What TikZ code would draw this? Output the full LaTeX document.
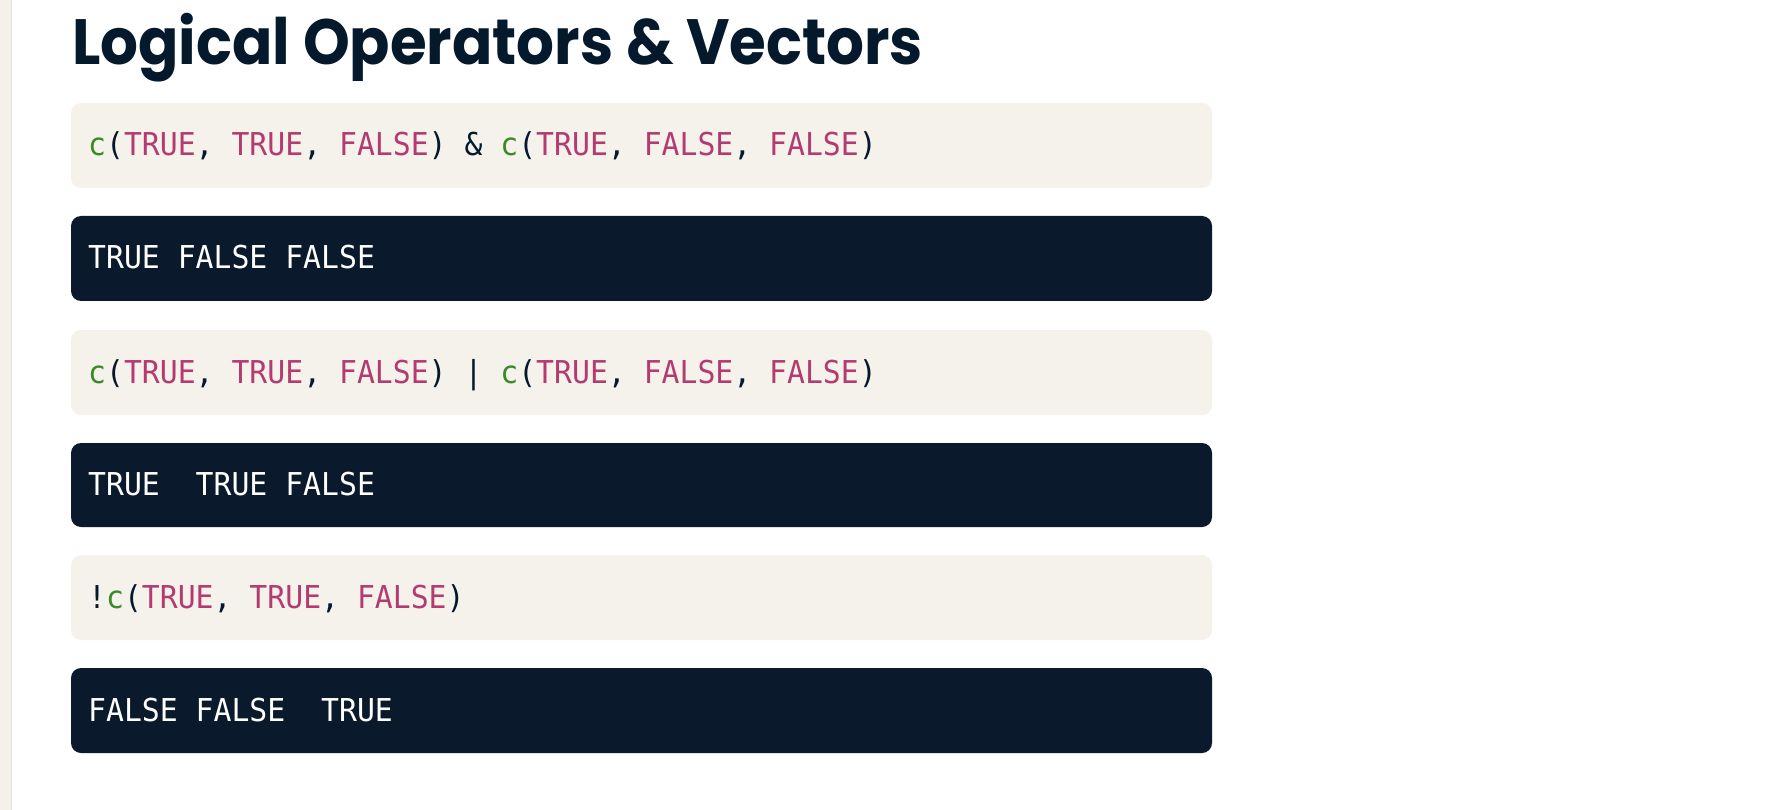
\documentclass[tikz,border=0pt]{standalone}
\usepackage{fontspec}
\newfontfamily\titlefont[FakeStretch=0.93]{Poppins}
\newfontfamily\codefont[FakeStretch=0.945]{DejaVu Sans Mono}
\definecolor{navy}{HTML}{0B192C}
\definecolor{ink}{HTML}{05192D}
\definecolor{beige}{HTML}{F5F2EC}
\definecolor{strip}{HTML}{F4F1EA}
\definecolor{stripedge}{HTML}{E6E2D9}
\definecolor{rgreen}{HTML}{3A8A2A}
\definecolor{rpink}{HTML}{B43B6F}
\newcommand{\cg}[1]{\textcolor{rgreen}{#1}}
\newcommand{\cp}[1]{\textcolor{rpink}{#1}}
\begin{document}
\begin{tikzpicture}[x=1pt,y=-1pt,
  inbox/.style={fill=beige,rounded corners=10pt,draw=none},
  outbox/.style={fill=navy,rounded corners=10pt,draw=none},
  codetext/.style={anchor=base west,inner sep=0pt,font=\codefont\fontsize{31.5}{31.5}\selectfont,text=ink},
  outtext/.style={codetext,text=white},
  titletext/.style={anchor=base west,inner sep=0pt,font=\titlefont\bfseries\fontsize{64}{64}\selectfont,text=ink}]
\useasboundingbox (0,0) rectangle (1788,810);
\fill[white] (0,0) rectangle (1788,810);
\fill[strip] (0,0) rectangle (11,810);
\fill[stripedge] (11,0) rectangle (12,810);

\node[titletext] (title) at (72,65) {Logical Operators \& Vectors};

\path[inbox]  (71,103) rectangle (1212,188) coordinate (b1);
\path[outbox] (71,216) rectangle (1212,301) coordinate (b2);
\path[inbox]  (71,330) rectangle (1212,415) coordinate (b3);
\path[outbox] (71,443) rectangle (1212,527) coordinate (b4);
\path[inbox]  (71,555) rectangle (1212,640) coordinate (b5);
\path[outbox] (71,668) rectangle (1212,753) coordinate (b6);

\node[codetext] (t1) at (88,156) {\cg{c}(\cp{TRUE}, \cp{TRUE}, \cp{FALSE}) \& \cg{c}(\cp{TRUE}, \cp{FALSE}, \cp{FALSE})};
\node[outtext] (t2) at (88,269) {TRUE FALSE FALSE};
\node[codetext] (t3) at (88,383) {\cg{c}(\cp{TRUE}, \cp{TRUE}, \cp{FALSE}) | \cg{c}(\cp{TRUE}, \cp{FALSE}, \cp{FALSE})};
\node[outtext] (t4) at (88,495) {TRUE\ \ TRUE FALSE};
\node[codetext] (t5) at (88,608) {!\cg{c}(\cp{TRUE}, \cp{TRUE}, \cp{FALSE})};
\node[outtext] (t6) at (88,721) {FALSE FALSE\ \ TRUE};
\end{tikzpicture}
\end{document}
